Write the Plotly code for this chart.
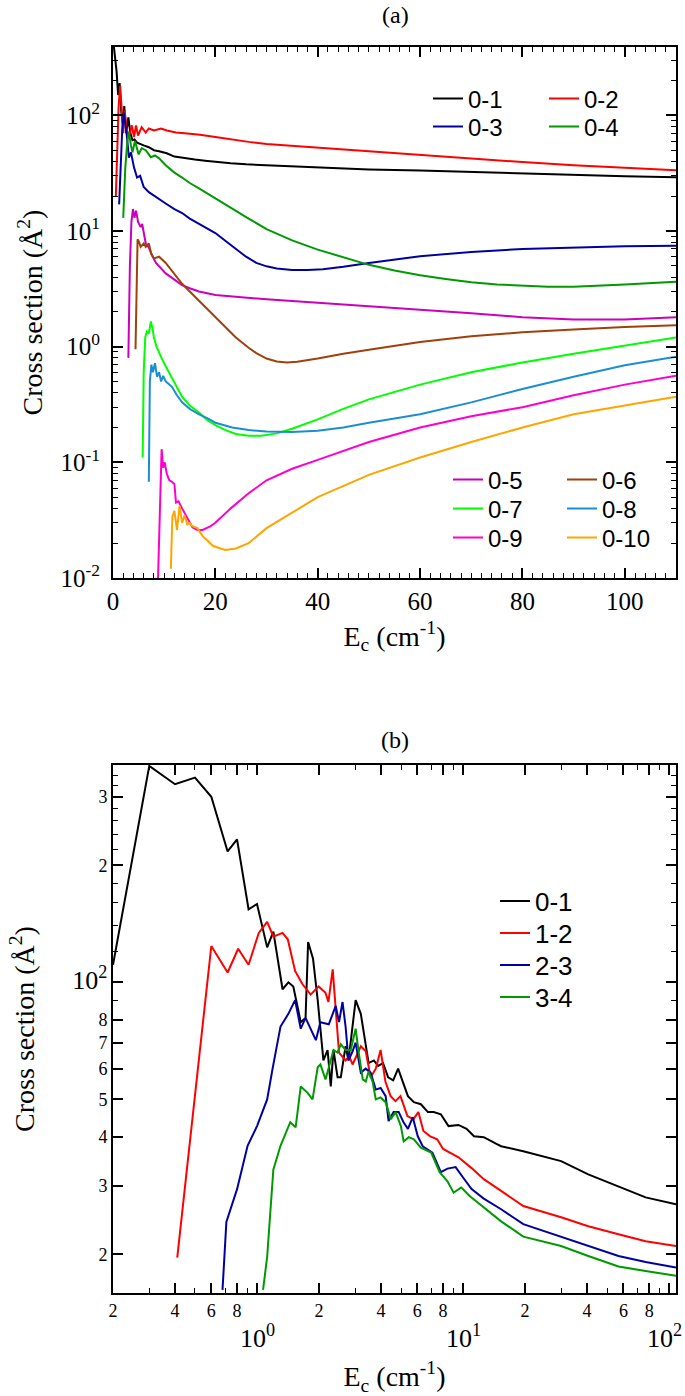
import plotly.graph_objects as go
import numpy as np

# ---------------- Panel (a) data: E_c (cm^-1) vs cross section (A^2) ----------------
a_labels = ["0-1", "0-2", "0-3", "0-4", "0-5", "0-6", "0-7", "0-8", "0-9", "0-10"]
a_colors = ["#000000", "#ff0000", "#0000a0", "#009a00", "#cc00bb",
            "#a0400a", "#00ff00", "#1a8fd0", "#ff00cc", "#ffa500"]

a01_E = [0.15, 0.4, 0.7, 1.0, 1.3, 1.6, 1.9, 2.2, 2.6, 3.0, 3.4, 3.8, 4.2, 4.7, 5.3, 6.0, 7.0, 8.0, 9.0,
         10.5, 12, 14, 16, 18, 20, 23, 26, 30, 35, 40, 50, 60, 70, 80, 90, 100, 110]
a01_S = [400, 330, 240, 150, 190, 110, 85, 120, 70, 96, 70, 61, 62, 58, 57, 55, 53, 50, 49,
         47, 44, 42.5, 41.5, 40.5, 39.5, 38.5, 37.7, 37, 36, 35.2, 34, 33.3, 32.3, 31.2, 30.3, 29.7, 29.2]

a02_E = [0.55, 0.8, 1.1, 1.4, 1.7, 2.0, 2.3, 2.6, 3.1, 3.7, 4.1, 4.5, 4.9, 5.6, 6.4, 7.0, 8.0, 9.4,
         10.5, 12.3, 14, 17, 20, 23, 26.5, 30, 35, 40, 50, 60, 70, 80, 90, 100, 110]
a02_S = [20, 45, 120, 180, 110, 70, 110, 79, 65, 82, 65, 82, 67, 79, 71, 77, 74, 77,
         74, 71, 70, 68, 65, 62, 59, 56.5, 54.5, 52.5, 48.5, 45, 42, 39.5, 37, 35, 33.5]

a03_E = [1.2, 1.5, 1.8, 2.1, 2.4, 2.7, 3.1, 3.5, 4.1, 4.7, 5.3, 6.0, 7.0, 8.4, 10.3, 12, 13.5, 15, 16.8,
         18.5, 20, 22, 24, 26, 28, 30, 32, 35, 38, 41, 45, 50, 60, 70, 80, 90, 100, 110]
a03_S = [17, 40, 75, 106, 85, 67, 43, 48, 35.5, 29, 30, 24, 21.7, 19.6, 17.3, 15.5, 14.3, 12.8, 11.6,
         10.5, 9.6, 8.2, 7.0, 6.0, 5.3, 4.95, 4.75, 4.6, 4.6, 4.68, 4.9, 5.3, 6.05, 6.6, 7.0, 7.25, 7.4, 7.45]

a04_E = [2.0, 2.4, 2.8, 3.1, 3.5, 3.8, 4.3, 5.0, 5.6, 6.4, 7.0, 7.4, 8.2, 9.0, 10.3, 12, 13.5, 15, 16.8,
         18.5, 20, 23.3, 26.5, 30, 35, 40, 45, 50, 55, 60, 65, 70, 75, 80, 85, 90, 95, 100, 110]
a04_S = [13, 35, 60, 72, 55, 48, 60, 46, 52, 50, 46, 43.5, 45, 42.5, 37, 32, 29, 26, 23.4,
         21, 19.2, 15.6, 12.8, 10.4, 8.3, 6.9, 5.9, 5.1, 4.55, 4.15, 3.85, 3.6, 3.45, 3.35, 3.3, 3.3,
         3.35, 3.45, 3.65]

a05_E = [3.0, 3.3, 3.6, 3.9, 4.2, 4.5, 4.9, 5.4, 5.7, 6.0, 6.4, 7.0, 7.6, 8.4, 9.3, 10.3, 12, 13.5, 15,
         16.8, 20, 23, 26.5, 30, 40, 50, 60, 70, 80, 90, 100, 110]
a05_S = [0.8, 5, 12, 15.5, 13, 15, 12, 10.8, 11.5, 9.6, 7.8, 7.2, 6.2, 5.3, 4.8, 4.3, 3.8, 3.4, 3.2,
         3.0, 2.8, 2.72, 2.65, 2.57, 2.4, 2.25, 2.1, 1.95, 1.8, 1.72, 1.72, 1.8]

a06_E = [4.4, 4.6, 4.8, 5.1, 5.4, 6.0, 6.4, 7.0, 7.5, 8.0, 9.0, 10.3, 12, 13.5, 15, 16.8, 18.5, 20, 22,
         24, 26.5, 28, 30, 32, 34, 36, 40, 45, 50, 60, 70, 80, 90, 100, 110]
a06_S = [0.95, 3, 8.5, 8.0, 7.3, 7.8, 7.3, 7.8, 6.3, 5.8, 6.0, 5.3, 4.3, 3.5, 3.0, 2.5, 2.1, 1.8, 1.45,
         1.2, 0.98, 0.88, 0.79, 0.745, 0.73, 0.74, 0.79, 0.87, 0.94, 1.1, 1.23, 1.33, 1.41, 1.48, 1.53]

a07_E = [5.8, 6.0, 6.3, 6.6, 7.0, 7.4, 7.7, 8.0, 8.5, 9.0, 9.6, 10.5, 11.5, 12.5, 13.5, 15, 16.8, 18.5,
         20, 22, 24, 26.5, 29, 32, 35, 40, 45, 50, 60, 70, 80, 90, 100, 110]
a07_S = [0.11, 0.6, 1.2, 1.35, 1.3, 1.65, 1.45, 1.2, 1.0, 0.88, 0.78, 0.65, 0.54, 0.45, 0.37, 0.31, 0.27,
         0.23, 0.21, 0.19, 0.176, 0.17, 0.17, 0.178, 0.195, 0.235, 0.29, 0.35, 0.47, 0.6, 0.73, 0.87, 1.02, 1.2]

a08_E = [7.0, 7.2, 7.5, 7.8, 8.2, 8.6, 9.0, 9.4, 9.8, 10.3, 11, 11.5, 12.5, 13.5, 15, 16.8, 18.5, 20,
         23.3, 26.5, 30, 35, 40, 45, 50, 60, 70, 80, 90, 100, 110]
a08_S = [0.068, 0.5, 0.7, 0.6, 0.72, 0.55, 0.6, 0.5, 0.56, 0.5, 0.47, 0.45, 0.38, 0.33, 0.29, 0.26, 0.24,
         0.22, 0.2, 0.19, 0.185, 0.183, 0.188, 0.2, 0.22, 0.26, 0.33, 0.43, 0.55, 0.69, 0.82]

a09_E = [8.8, 9.2, 9.5, 9.8, 10.1, 10.5, 11.0, 11.5, 12.0, 12.3, 12.8, 13.5, 14.5, 15.5, 16.5, 17.5, 19,
         20, 23, 26.5, 30, 35, 40, 50, 60, 70, 80, 90, 100, 110]
a09_S = [0.01, 0.06, 0.13, 0.09, 0.1, 0.08, 0.07, 0.068, 0.065, 0.045, 0.046, 0.04, 0.033, 0.0275, 0.026,
         0.026, 0.028, 0.03, 0.04, 0.054, 0.07, 0.088, 0.105, 0.15, 0.2, 0.25, 0.3, 0.38, 0.47, 0.56]

a10_E = [11.3, 11.6, 12.0, 12.5, 13.0, 13.5, 14.0, 14.5, 15.0, 15.5, 16.5, 17.5, 18.5, 19.5, 21, 22, 24,
         26.5, 30, 35, 40, 50, 60, 70, 80, 90, 100, 110]
a10_S = [0.012, 0.034, 0.038, 0.026, 0.042, 0.03, 0.035, 0.029, 0.03, 0.028, 0.027, 0.023, 0.021, 0.019,
         0.018, 0.0175, 0.018, 0.02, 0.027, 0.037, 0.05, 0.078, 0.11, 0.15, 0.2, 0.26, 0.31, 0.37]

a_E = [a01_E, a02_E, a03_E, a04_E, a05_E, a06_E, a07_E, a08_E, a09_E, a10_E]
a_S = [a01_S, a02_S, a03_S, a04_S, a05_S, a06_S, a07_S, a08_S, a09_S, a10_S]

# ---------------- Panel (b) data ----------------
b_labels = ["0-1", "1-2", "2-3", "3-4"]
b_colors = ["#000000", "#ff0000", "#0000a0", "#009a00"]

b01_E = [0.2, 0.3, 0.4, 0.5, 0.6, 0.72, 0.8, 0.91, 1.0, 1.12, 1.2, 1.33, 1.42, 1.5, 1.63, 1.72, 1.77,
         1.87, 1.97, 2.1, 2.2, 2.28, 2.35, 2.46, 2.55, 2.69, 2.78, 3.01, 3.19, 3.37, 3.48, 3.69, 3.87,
         4.09, 4.33, 4.58, 4.84, 5.1, 5.4, 5.77, 6.24, 6.75, 7.2, 7.8, 8.5, 9.5, 10.4, 11.3, 12.6, 14.6,
         15.3, 19.6, 29.9, 40.5, 56.8, 76.9, 108]
b01_S = [111, 360, 323, 336, 300, 217, 233, 154, 159, 123, 135, 96, 100, 97.6, 79, 81, 127,
         115, 90, 63, 67, 54, 67, 57, 57, 68.5, 63, 90, 83, 70, 62, 63, 61,
         62, 57, 56, 60, 55.5, 51, 49.2, 48.6, 46.4, 46.4, 45.8, 42.7, 43, 42, 40.2, 40, 38.4,
         37.9, 36.8, 34.7, 32.1, 29.8, 28.0, 26.9]

b12_E = [0.41, 0.6, 0.72, 0.81, 0.91, 1.02, 1.12, 1.2, 1.33, 1.41, 1.53, 1.66, 1.82, 1.99, 2.15, 2.22,
         2.33, 2.4, 2.5, 2.69, 2.8, 2.91, 3.08, 3.19, 3.37, 3.56, 3.77, 3.98, 4.2, 4.45, 4.7, 4.97, 5.37,
         5.74, 6.07, 6.42, 6.93, 7.49, 8.0, 9.5, 11, 12.6, 15.3, 19.6, 29.9, 40.5, 56.8, 76.9, 108]
b12_S = [19.6, 124, 106, 122, 111, 134, 143, 131, 134, 129, 107, 99, 93, 97.6, 94, 89,
         108, 87, 66, 63, 64.6, 61.5, 66, 68.5, 66.5, 57, 60, 67, 55.5, 51, 49.5, 51, 45.3,
         44.5, 46.4, 41.5, 40.2, 39.5, 37.3, 35.5, 33.3, 31.2, 29.1, 26.6, 24.9, 23.6, 22.5, 21.6, 21.0]

b23_E = [0.68, 0.71, 0.8, 0.9, 1.0, 1.12, 1.19, 1.3, 1.42, 1.53, 1.63, 1.72, 1.93, 2.03, 2.23, 2.41,
         2.5, 2.6, 2.69, 2.78, 2.91, 3.01, 3.19, 3.37, 3.56, 3.77, 3.98, 4.21, 4.35, 4.6, 4.87, 5.15,
         5.4, 5.7, 6.03, 6.37, 7.1, 7.8, 8.4, 9.2, 10.0, 11.0, 12.6, 15.3, 19.6, 29.9, 40.5, 56.8, 76.9, 108]
b23_S = [16.2, 24.2, 29.4, 38, 42.7, 50, 60, 77, 83, 90, 76, 81, 71, 79, 78, 87,
         79, 89, 77, 63, 66.5, 70, 58.6, 60, 58.6, 53, 53.5, 51, 44, 46.4, 46.4, 43.6,
         42, 45, 40.2, 37.9, 36.5, 32.5, 33.2, 33.5, 31.5, 29.4, 27.8, 26.1, 23.9, 22.2, 21.0, 19.8, 19.1, 18.5]

b34_E = [1.07, 1.12, 1.2, 1.3, 1.45, 1.54, 1.63, 1.76, 1.86, 1.97, 2.03, 2.15, 2.35, 2.46, 2.55, 2.69,
         2.85, 3.01, 3.11, 3.26, 3.37, 3.48, 3.64, 3.77, 3.98, 4.21, 4.46, 4.71, 4.99, 5.15, 5.45, 5.77,
         6.24, 7.0, 7.7, 8.4, 9.0, 9.8, 10.8, 12.2, 15.3, 19.6, 29.9, 40.5, 56.8, 76.9, 108]
b34_S = [16.2, 19.7, 33, 38, 43.7, 42.4, 54, 52, 50, 60.5, 61.5, 56.3, 67, 66, 69.3, 67,
         67, 76, 66.5, 56.3, 55.6, 59, 55.5, 50, 50.6, 49.2, 44.5, 46.4, 42.7, 39, 40, 39.5,
         37.6, 36.5, 32.5, 30.8, 28.8, 29.7, 28.2, 26.8, 24.3, 22.2, 21.0, 19.8, 18.6, 18.1, 17.6]

b_E = [b01_E, b12_E, b23_E, b34_E]
b_S = [b01_S, b12_S, b23_S, b34_S]

# ---------------- tick definitions ----------------
a_xticks = [0, 20, 40, 60, 80, 100]
a_xtext = ["0", "20", "40", "60", "80", "100"]
a_xminor = [v for v in range(0, 111, 2) if v % 20 != 0 or v > 100]
a_yticks = [1e-2, 1e-1, 1, 10, 100]
a_ytext = ["10<sup>-2</sup>", "10<sup>-1</sup>", "10<sup>0</sup>", "10<sup>1</sup>", "10<sup>2</sup>"]
a_yminor = [m * 10.0 ** d for d in range(-2, 3) for m in range(2, 10) if m * 10.0 ** d < 390]

b_xticks = [0.2, 0.4, 0.6, 0.8, 1, 2, 4, 6, 8, 10, 20, 40, 60, 80, 100]
b_xtext = ["2", "4", "6", "8", "", "2", "4", "6", "8", "", "2", "4", "6", "8", ""]
b_xminor = [0.3, 0.5, 0.7, 0.9, 3, 5, 7, 9, 30, 50, 70, 90]
b_xdecades = [1, 10, 100]
b_xdecade_text = ["10<sup>0</sup>", "10<sup>1</sup>", "10<sup>2</sup>"]
b_yticks = [20, 30, 40, 50, 60, 70, 80, 100, 200, 300]
b_ytext = ["2", "3", "4", "5", "6", "7", "8", '<span style="font-size:26px">10<sup>2</sup></span>', "2", "3"]
b_yminor = [90, 120, 140, 160, 180, 220, 240, 260, 280, 320, 340, 360]

SERIF = "Liberation Serif"
SANS = "Liberation Sans"
H = 1396.0
W = 685.0

# legend placement (text start x, row center y) in page pixels
a_leg_pos = [(478, 99), (594, 99), (478, 127), (594, 127), (498, 480),
             (612, 480), (498, 509), (612, 509), (498, 538), (612, 538)]
b_leg_pos = [(545, 901), (545, 933), (545, 965), (545, 997)]

fig = go.Figure()
legends = {}
k = 0
for lab, col, E, S, pos in zip(a_labels, a_colors, a_E, a_S, a_leg_pos):
    k += 1
    name = "legend" if k == 1 else "legend%d" % k
    fig.add_trace(go.Scatter(x=E, y=S, mode="lines", name=lab, legend=name, showlegend=True,
                             line=dict(color=col, width=2), xaxis="x", yaxis="y"))
    legends[name] = dict(x=(pos[0] - 50) / W, y=1 - pos[1] / H, xanchor="left", yanchor="middle",
                         bgcolor="rgba(0,0,0,0)", borderwidth=0, font=dict(size=24, family=SANS))
for lab, col, E, S, pos in zip(b_labels, b_colors, b_E, b_S, b_leg_pos):
    k += 1
    name = "legend%d" % k
    fig.add_trace(go.Scatter(x=E, y=S, mode="lines", name=lab, legend=name, showlegend=True,
                             line=dict(color=col, width=2), xaxis="x2", yaxis="y2"))
    legends[name] = dict(x=(pos[0] - 50) / W, y=1 - pos[1] / H, xanchor="left", yanchor="middle",
                         bgcolor="rgba(0,0,0,0)", borderwidth=0, font=dict(size=26, family=SANS))

axis_common = dict(showline=True, linecolor="black", linewidth=2, mirror="allticks",
                   ticks="inside", ticklen=10, tickwidth=1.5, tickcolor="black",
                   showgrid=False, zeroline=False, automargin=False)
minor_common = dict(ticklen=5, tickwidth=1.2, tickcolor="black", ticks="inside")

fig.update_layout(
    width=685, height=1396, autosize=False, showlegend=True,
    margin=dict(l=0, r=0, t=0, b=0),
    paper_bgcolor="white", plot_bgcolor="white",
    font=dict(family=SERIF, color="black"),
    xaxis=dict(domain=[113 / W, 676 / W], anchor="y", range=[0, 110],
               tickmode="array", tickvals=a_xticks, ticktext=a_xtext,
               tickfont=dict(size=25, family=SERIF),
               minor=dict(tickvals=a_xminor, **minor_common),
               title=dict(text="E<sub>c</sub> (cm<sup>-1</sup>)", font=dict(size=28, family=SERIF), standoff=12),
               **axis_common),
    yaxis=dict(domain=[1 - 578 / H, 1 - 47 / H], anchor="x", type="log",
               range=[-2, np.log10(390)],
               tickmode="array", tickvals=a_yticks, ticktext=a_ytext,
               tickfont=dict(size=25, family=SERIF), ticklabelstandoff=6,
               minor=dict(tickvals=a_yminor, **minor_common),
               title=dict(text="Cross section (Å<sup>2</sup>)", font=dict(size=28, family=SERIF), standoff=10),
               **axis_common),
    xaxis2=dict(domain=[113 / W, 676 / W], anchor="y2", type="log",
                range=[np.log10(0.2), np.log10(108)],
                tickmode="array", tickvals=b_xticks, ticktext=b_xtext,
                tickfont=dict(size=18, family=SERIF),
                minor=dict(tickvals=b_xminor, **minor_common),
                title=dict(text="E<sub>c</sub> (cm<sup>-1</sup>)", font=dict(size=28, family=SERIF), standoff=48),
                **axis_common),
    yaxis2=dict(domain=[1 - 1293 / H, 1 - 765 / H], anchor="x2", type="log",
                range=[np.log10(15.9), np.log10(362)],
                tickmode="array", tickvals=b_yticks, ticktext=b_ytext,
                tickfont=dict(size=18, family=SERIF),
                minor=dict(tickvals=b_yminor, **minor_common),
                title=dict(text="Cross section (Å<sup>2</sup>)", font=dict(size=28, family=SERIF), standoff=30),
                **axis_common),
)

ann = [
    dict(text="(a)", x=395 / W, y=1 - 15 / H, xref="paper", yref="paper",
         showarrow=False, font=dict(size=24, family=SERIF), xanchor="center", yanchor="middle"),
    dict(text="(b)", x=395 / W, y=1 - 740 / H, xref="paper", yref="paper",
         showarrow=False, font=dict(size=24, family=SERIF), xanchor="center", yanchor="middle"),
]
for v, t in zip(b_xdecades, b_xdecade_text):
    ann.append(dict(text=t, x=np.log10(v), xref="x2", y=1 - 1336 / H, yref="paper",
                    showarrow=False, font=dict(size=26, family=SERIF),
                    xanchor="center", yanchor="middle", xshift=-5 if v == 100 else 0))
fig.update_layout(annotations=ann, **legends)

fig.write_html("out.html", config={"displayModeBar": False},
               post_script="document.body.style.margin='0';document.body.style.padding='0';")
